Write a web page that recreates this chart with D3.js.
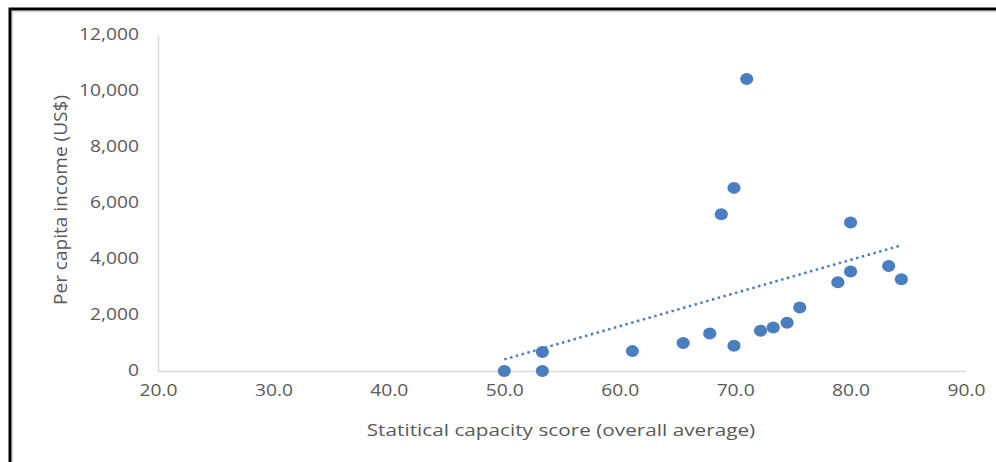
<!DOCTYPE html>
<html><head><meta charset="utf-8">
<script src="https://cdn.jsdelivr.net/npm/d3@7"></script>
<style>
html,body{margin:0;padding:0;background:#fff;}
svg{display:block;}
text{font-family:"Open Sans",sans-serif;fill:#595959;}
</style></head>
<body>
<svg id="c" width="996" height="462"></svg>
<script>
const scores = [50.0, 53.3, 53.3, 61.1, 65.5, 67.8, 69.9, 68.8, 69.9, 71.0, 80.0, 72.2, 73.3, 74.5, 75.6, 78.9, 80.0, 83.3, 84.4];
const incomes = [0, 0, 680, 710, 1000, 1340, 900, 5600, 6540, 10430, 5300, 1440, 1550, 1720, 2270, 3170, 3550, 3750, 3280];
const xTicks = [20, 30, 40, 50, 60, 70, 80, 90];
const yTicks = [0, 2000, 4000, 6000, 8000, 10000, 12000];
const xTitle = "Statitical capacity score (overall average)";
const yTitle = "Per capita income (US$)";

const svg = d3.select("#c");
const W = 996, H = 462;
svg.append("rect").attr("x", 0).attr("y", 0).attr("width", W).attr("height", H).attr("fill", "#fff");
// outer frame
svg.append("rect").attr("x", 12.5).attr("y", 11.5).attr("width", W + 20).attr("height", H + 20)
  .attr("fill", "none").attr("stroke", "#d9d9d9").attr("stroke-width", 1.5);
svg.append("rect").attr("x", 10).attr("y", 9).attr("width", W + 20).attr("height", H + 20)
  .attr("fill", "none").attr("stroke", "#000").attr("stroke-width", 3);

const x = d3.scaleLinear().domain([20, 90]).range([158, 966]);
const y = d3.scaleLinear().domain([0, 12000]).range([371, 35]);

function stretch(sel, k) {
  sel.each(function() {
    const L = this.getComputedTextLength();
    d3.select(this).attr("textLength", L * k).attr("lengthAdjust", "spacingAndGlyphs");
  });
}

const yAxis = d3.axisLeft(y).tickValues(yTicks).tickFormat(d3.format(",")).tickSize(0).tickPadding(19);
const gy = svg.append("g").attr("transform", `translate(${x(20)},0)`).call(yAxis);
gy.select(".domain").attr("stroke", "#d9d9d9").attr("stroke-width", 1.5);
gy.selectAll("text").attr("font-size", 15.5).style("font-family", '"Open Sans",sans-serif').attr("fill", "#595959");
stretch(gy.selectAll("text"), 1.24);

const xAxis = d3.axisBottom(x).tickValues(xTicks).tickFormat(d3.format(".1f")).tickSize(0).tickPadding(14);
const gx = svg.append("g").attr("transform", `translate(0,${y(0)})`).call(xAxis);
gx.select(".domain").attr("stroke", "#d9d9d9").attr("stroke-width", 1.5);
gx.selectAll("text").attr("font-size", 15.5).style("font-family", '"Open Sans",sans-serif').attr("fill", "#595959");
stretch(gx.selectAll("text"), 1.24);

// titles
const xt = svg.append("text").attr("x", 561).attr("y", 436).attr("text-anchor", "middle")
  .attr("font-size", 17).text(xTitle);
stretch(xt, 1.22);
const yt = svg.append("text").attr("transform", `translate(67,200) rotate(-90)`)
  .attr("text-anchor", "middle").attr("font-size", 17.5).text(yTitle);
yt.attr("textLength", 210).attr("lengthAdjust", "spacingAndGlyphs");

// points
const pts = scores.map((s, i) => ({x: s, y: incomes[i]}));
svg.append("g").selectAll("ellipse").data(pts).join("ellipse")
  .attr("cx", d => x(d.x)).attr("cy", d => y(d.y))
  .attr("rx", 6.6).attr("ry", 6).attr("fill", "#4a7ebf");

// linear trendline (least squares)
const mx = d3.mean(scores), my = d3.mean(incomes);
let sxy = 0, sxx = 0;
pts.forEach(d => { sxy += (d.x - mx) * (d.y - my); sxx += (d.x - mx) ** 2; });
const slope = sxy / sxx, icpt = my - slope * mx;
const x0 = d3.min(scores), x1 = d3.max(scores);
svg.append("line")
  .attr("x1", x(x0)).attr("y1", y(icpt + slope * x0))
  .attr("x2", x(x1)).attr("y2", y(icpt + slope * x1))
  .attr("stroke", "#4a7ebf").attr("stroke-width", 2.5)
  .attr("stroke-dasharray", "2.5 3.5");
</script>
</body></html>
